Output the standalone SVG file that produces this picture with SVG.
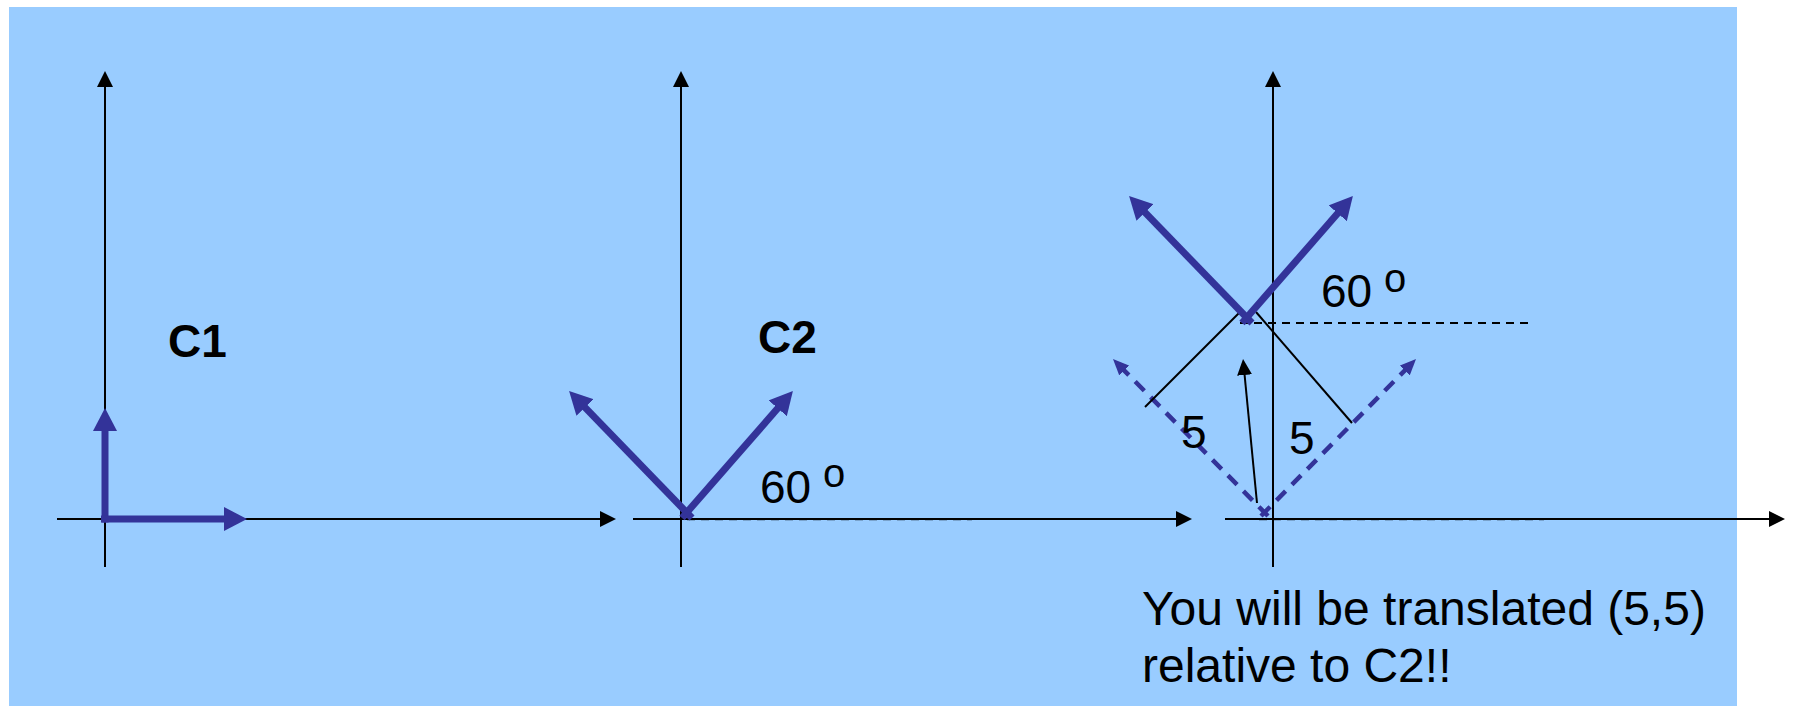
<svg xmlns="http://www.w3.org/2000/svg" width="1794" height="706" viewBox="0 0 1794 706">
  <style>
    .axis { stroke: #000; stroke-width: 2; fill: none; marker-end: url(#axHead); }
    .vec { stroke: #333399; stroke-width: 7; fill: none; marker-end: url(#blueHead); }
    .dvec { stroke: #333399; stroke-width: 4.5; fill: none; stroke-dasharray: 13 9; marker-end: url(#blueSmall); }
    .thin { stroke: #000; stroke-width: 2; fill: none; }
    .lbl { font-family: "Liberation Sans", Arial, sans-serif; font-size: 46px; fill: #000; }
    .cap { font-family: "Liberation Sans", Arial, sans-serif; font-size: 48px; fill: #000; }
    .bold { font-family: "Liberation Sans", Arial, sans-serif; font-size: 46px; font-weight: bold; fill: #000; }
    .deg { font-family: "Liberation Sans", Arial, sans-serif; font-size: 40px; fill: #000; }
  </style>
  <defs>
    <marker id="axHead" markerUnits="userSpaceOnUse" markerWidth="16" markerHeight="16" refX="2" refY="8" orient="auto">
      <path d="M0,0 L16,8 L0,16 z" fill="#000"/>
    </marker>
    <marker id="blueHead" markerUnits="userSpaceOnUse" markerWidth="23" markerHeight="24" refX="4" refY="12" orient="auto">
      <path d="M0,0 L23,12 L0,24 z" fill="#333399"/>
    </marker>
    <marker id="blueSmall" markerUnits="userSpaceOnUse" markerWidth="16" markerHeight="14" refX="3" refY="7" orient="auto">
      <path d="M0,0 L16,7 L0,14 z" fill="#333399"/>
    </marker>
    <marker id="blkSmall" markerUnits="userSpaceOnUse" markerWidth="16" markerHeight="15" refX="2" refY="7.5" orient="auto">
      <path d="M0,0 L16,7.5 L0,15 z" fill="#000"/>
    </marker>
  </defs>

  <rect id="background" x="9" y="7" width="1728" height="699" fill="#99CCFF"/>

  <g id="connectors">
    <line x1="687" y1="520" x2="972" y2="520" stroke="#000" stroke-opacity="0.2" stroke-width="2" stroke-dasharray="8 6"/>
    <line x1="1259" y1="520" x2="1544" y2="520" stroke="#000" stroke-opacity="0.2" stroke-width="2" stroke-dasharray="8 6"/>
    <line class="axis" x1="105" y1="567" x2="105" y2="85"/>
    <line class="axis" x1="57" y1="519" x2="602" y2="519"/>
    <line class="axis" x1="681" y1="567" x2="681" y2="85"/>
    <line class="axis" x1="633" y1="519" x2="1178" y2="519"/>
    <line class="axis" x1="1273" y1="567" x2="1273" y2="85"/>
    <line class="axis" x1="1225" y1="519" x2="1771" y2="519"/>
  </g>

  <g id="frame-c1">
    <line class="vec" x1="105" y1="522.5" x2="105" y2="427"/>
    <line class="vec" x1="101" y1="519" x2="228" y2="519"/>
    <text class="bold" x="168" y="357">C1</text>
  </g>

  <g id="frame-c2">
    <line class="vec" x1="692" y1="518" x2="582.3" y2="404.6"/>
    <line class="vec" x1="682" y1="518" x2="780.4" y2="405.3"/>
    <text class="bold" x="758" y="353">C2</text>
    <text class="lbl" x="760" y="503">60</text>
    <text class="deg" x="823" y="487">o</text>
  </g>

  <g id="frame-c3">
    <line class="dvec" x1="1268" y1="516" x2="1122.1" y2="368.3"/>
    <line class="dvec" x1="1261" y1="516" x2="1406.9" y2="368.3"/>
    <line class="thin" x1="1145" y1="407" x2="1242" y2="310"/>
    <line class="thin" x1="1256" y1="312" x2="1352" y2="423"/>
    <line class="thin" x1="1257" y1="503" x2="1244.4" y2="373" marker-end="url(#blkSmall)"/>
    <line x1="1240" y1="323" x2="1529" y2="323" stroke="#000" stroke-width="2" stroke-dasharray="8 6"/>
    <line class="vec" x1="1252" y1="323" x2="1142.3" y2="209.6"/>
    <line class="vec" x1="1242" y1="323" x2="1340.4" y2="210.3"/>
    <text class="lbl" x="1321" y="307">60</text>
    <text class="deg" x="1384" y="292">o</text>
    <text class="lbl" x="1181" y="448">5</text>
    <text class="lbl" x="1289" y="454">5</text>
  </g>

  <g id="caption">
    <text class="cap" x="1142" y="625">You will be translated (5,5)</text>
    <text class="cap" x="1142" y="682">relative to C2!!</text>
  </g>
</svg>
